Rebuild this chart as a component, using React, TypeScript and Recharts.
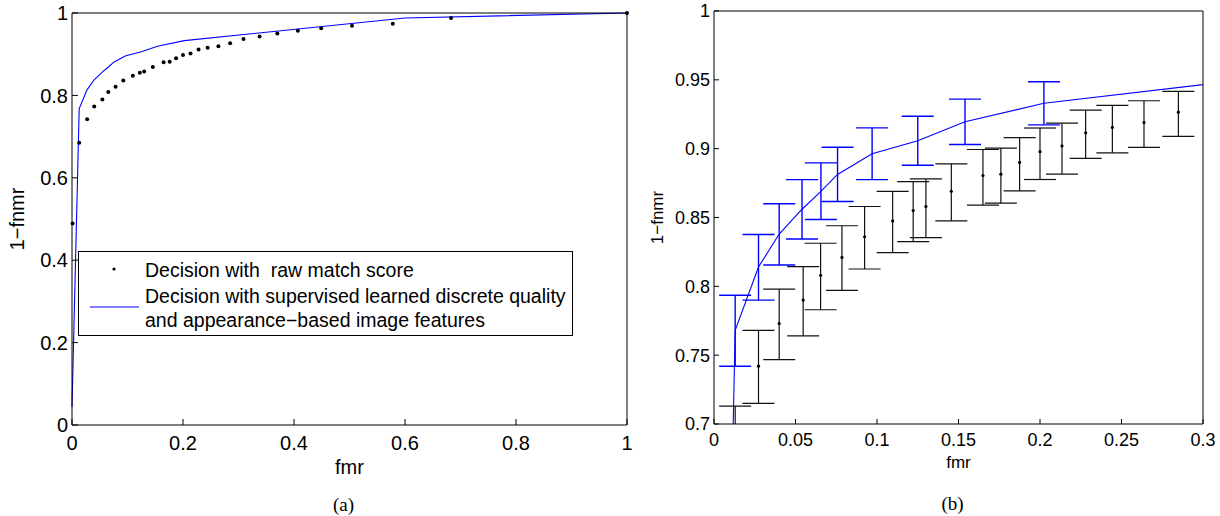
import React from "react";
import {
  ComposedChart,
  Line,
  Scatter,
  XAxis,
  YAxis,
  ErrorBar,
  Legend,
} from "recharts";

const FONT = "'Liberation Sans', Arial, Helvetica, sans-serif";
const BLUE = "#0000ff";

// decision with raw match score (black dots); points 2..21 carry error bars in (b)
const rawFmr = [
  0.001, 0.013, 0.0273, 0.04, 0.0547, 0.0654, 0.0785, 0.0924, 0.1096, 0.1222,
  0.13, 0.1456, 0.165, 0.176, 0.1875, 0.2, 0.2135, 0.228, 0.2444, 0.2638,
  0.2849, 0.309, 0.338, 0.37, 0.407, 0.449, 0.5045, 0.578, 0.683, 1.0,
];
const rawTpr = [
  0.489, 0.685, 0.742, 0.773, 0.79, 0.808, 0.821, 0.836, 0.8475, 0.855,
  0.858, 0.869, 0.8805, 0.8815, 0.89, 0.8978, 0.902, 0.9115, 0.9154, 0.919,
  0.9265, 0.937, 0.943, 0.95, 0.957, 0.963, 0.969, 0.974, 0.988, 1.0,
];
const rawUpper = [
  null, 0.713, 0.768, 0.798, 0.8143, 0.8313, 0.844, 0.858, 0.869, 0.876,
  0.878, 0.889, 0.8994, 0.9004, 0.908, 0.915, 0.9185, 0.928, 0.9314, 0.9348,
  0.9416, null, null, null, null, null, null, null, null, null,
];
const rawLower = [
  null, 0.657, 0.715, 0.7467, 0.764, 0.783, 0.797, 0.8126, 0.8245, 0.8325,
  0.8354, 0.8475, 0.859, 0.8604, 0.8693, 0.8776, 0.8815, 0.893, 0.897, 0.901,
  0.909, null, null, null, null, null, null, null, null, null,
];

// decision with supervised learned quality + image features (blue line)
const qFmr = [0, 0.013, 0.0273, 0.04, 0.054, 0.0656, 0.0758, 0.097, 0.125, 0.154, 0.2024, 0.6, 1.0];
const qTpr = [0.044, 0.768, 0.814, 0.838, 0.856, 0.869, 0.8813, 0.8963, 0.9058, 0.9195, 0.933, 0.988, 1.0];
const qUpper = [null, 0.7935, 0.8376, 0.86, 0.8775, 0.8897, 0.901, 0.9151, 0.9236, 0.936, 0.9486, null, null];
const qLower = [null, 0.742, 0.79, 0.8155, 0.8344, 0.8485, 0.8616, 0.8775, 0.888, 0.903, 0.9173, null, null];

const fullTicks = [0, 0.2, 0.4, 0.6, 0.8, 1];
const zoomXTicks = [0, 0.05, 0.1, 0.15, 0.2, 0.25, 0.3];
const zoomYTicks = [0.7, 0.75, 0.8, 0.85, 0.9, 0.95, 1];

const toRows = (xs: number[], ys: number[], up: (number | null)[], lo: (number | null)[]) =>
  xs.map((x, i) => ({
    x,
    y: ys[i],
    err: up[i] == null ? null : [ys[i] - (lo[i] as number), (up[i] as number) - ys[i]],
  }));

const rawRows = toRows(rawFmr, rawTpr, rawUpper, rawLower);
const qRows = toRows(qFmr, qTpr, qUpper, qLower);
const rawErrRows = rawRows.filter((r) => r.err);
const qErrRows = qRows.filter((r) => r.err);

const dot = (r: number) => (p: any) => <circle cx={p.cx} cy={p.cy} r={r} fill="#000" />;
const noShape = () => <g />;

const LegendBox = () => (
  <div
    style={{
      position: "relative",
      width: 493,
      height: 83,
      border: "1.3px solid #000",
      background: "#fff",
      fontFamily: FONT,
      fontSize: 19.5,
      color: "#000",
      whiteSpace: "pre",
    }}
  >
    <svg width={493} height={83} style={{ position: "absolute", left: 0, top: 0 }}>
      <circle cx={35} cy={17} r={1.6} fill="#000" />
      <line x1={11} x2={60} y1={55} y2={55} stroke={BLUE} strokeWidth={1.2} />
    </svg>
    <div style={{ position: "absolute", left: 66, top: 6, lineHeight: "24px" }}>Decision with  raw match score</div>
    <div style={{ position: "absolute", left: 66, top: 32, lineHeight: "24px" }}>
      Decision with supervised learned discrete quality
    </div>
    <div style={{ position: "absolute", left: 66, top: 56, lineHeight: "24px" }}>
      and appearance−based image features
    </div>
  </div>
);

const xLabel = (name: string, tag: string, size: number, top: number) => (props: any) => {
  const { x, y, width } = props.viewBox;
  const cx = x + width / 2;
  return (
    <g>
      <text x={cx} y={y + top} textAnchor="middle" fontSize={size} fontFamily={FONT} fill="#000">
        {name}
      </text>
      <text x={cx - 6} y={y + 86} textAnchor="middle" fontSize={19} fontFamily="'Liberation Serif', 'Times New Roman', serif" fill="#000">
        {tag}
      </text>
    </g>
  );
};

const yLabel = (size: number, cx: number) => (props: any) => {
  const { y, height } = props.viewBox;
  const cy = y + height / 2;
  return (
    <text
      x={cx}
      y={cy}
      transform={`rotate(-90 ${cx} ${cy})`}
      textAnchor="middle"
      dominantBaseline="central"
      fontSize={size}
      fontFamily={FONT}
      fill="#000"
    >
      1−fnmr
    </text>
  );
};

export default function App() {
  return (
    <div style={{ position: "absolute", left: 0, top: 0, width: 1220, height: 516, background: "#fff" }}>
      <div style={{ position: "absolute", left: 0, top: 0 }}>
        <ComposedChart width={640} height={516} margin={{ top: 12, right: 12, left: 12, bottom: 0 }}>
          <XAxis
            dataKey="x"
            type="number"
            domain={[0, 1]}
            ticks={fullTicks}
            height={91}
            stroke="#000"
            tickSize={-6}
            tickMargin={17}
            tick={{ fontSize: 20, fill: "#000", fontFamily: FONT }}
            label={{ content: xLabel("fmr", "(a)", 20, 49) }}
          />
          <XAxis xAxisId="top" orientation="top" type="number" domain={[0, 1]} ticks={fullTicks} height={1} stroke="#000" tickSize={-6} tick={false} />
          <YAxis
            dataKey="y"
            type="number"
            domain={[0, 1]}
            ticks={fullTicks}
            width={60}
            stroke="#000"
            tickSize={-6}
            tickMargin={10}
            tick={{ fontSize: 20, fill: "#000", fontFamily: FONT }}
            label={{ content: yLabel(20, 17) }}
          />
          <YAxis yAxisId="right" orientation="right" type="number" domain={[0, 1]} ticks={fullTicks} width={1} stroke="#000" tickSize={-6} tick={false} />
          <Scatter data={rawRows} dataKey="y" shape={dot(2)} isAnimationActive={false} />
          <Line data={qRows} dataKey="y" type="linear" stroke={BLUE} strokeWidth={1.1} dot={false} isAnimationActive={false} />
          <Legend
            layout="vertical"
            align="center"
            verticalAlign="middle"
            content={<LegendBox />}
            wrapperStyle={{ left: 78, top: 251, width: 496, height: 86 }}
          />
        </ComposedChart>
      </div>
      <div style={{ position: "absolute", left: 640, top: 0 }}>
        <ComposedChart width={580} height={516} margin={{ top: 10, right: 16, left: 0, bottom: 0 }}>
          <XAxis
            dataKey="x"
            type="number"
            domain={[0, 0.3]}
            ticks={zoomXTicks}
            allowDataOverflow
            height={92}
            stroke="#000"
            tickSize={-5}
            tickMargin={14}
            tick={{ fontSize: 18, fill: "#000", fontFamily: FONT }}
            label={{ content: xLabel("fmr", "(b)", 17, 44) }}
          />
          <XAxis xAxisId="top" orientation="top" type="number" domain={[0, 0.3]} ticks={zoomXTicks} height={1} stroke="#000" tickSize={-5} tick={false} />
          <YAxis
            dataKey="y"
            type="number"
            domain={[0.7, 1]}
            ticks={zoomYTicks}
            allowDataOverflow
            width={74}
            stroke="#000"
            tickSize={-5}
            tickMargin={9}
            tick={{ fontSize: 18, fill: "#000", fontFamily: FONT }}
            label={{ content: yLabel(17, 17) }}
          />
          <YAxis yAxisId="right" orientation="right" type="number" domain={[0.7, 1]} ticks={zoomYTicks} width={1} stroke="#000" tickSize={-5} tick={false} />
          <Line data={qRows} dataKey="y" type="linear" stroke={BLUE} strokeWidth={1.1} dot={false} isAnimationActive={false} />
          <Scatter id="qErr" data={qErrRows} dataKey="y" shape={noShape} isAnimationActive={false}>
            <ErrorBar dataKey="err" direction="y" width={16} stroke={BLUE} strokeWidth={1.4} clipPath="url(#clipPath-qErr)" />
          </Scatter>
          <Scatter id="rawErr" data={rawErrRows} dataKey="y" shape={dot(1.6)} isAnimationActive={false}>
            <ErrorBar dataKey="err" direction="y" width={16} stroke="#111" strokeWidth={1.2} clipPath="url(#clipPath-rawErr)" />
          </Scatter>
        </ComposedChart>
      </div>
    </div>
  );
}
